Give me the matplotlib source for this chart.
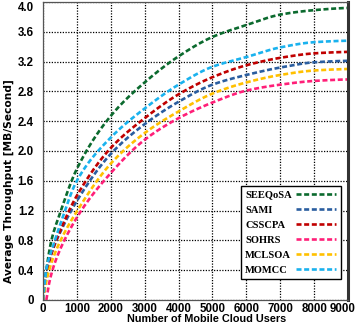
import matplotlib.pyplot as plt
import matplotlib.transforms as mtransforms
import numpy as np

# values (users, MB/s)
users = [0, 100, 250, 500, 1000, 2000, 3000, 4000, 5000, 6000, 7000, 8000, 9000]
seeqosa = [0, 0.40, 0.80, 1.16, 1.76, 2.47, 2.92, 3.27, 3.53, 3.69, 3.83, 3.89, 3.92]
momcc   = [0, 0.41, 0.66, 1.00, 1.60, 2.18, 2.57, 2.89, 3.13, 3.26, 3.39, 3.46, 3.48]
cssca   = [0, 0.33, 0.62, 0.92, 1.40, 2.04, 2.44, 2.76, 2.99, 3.15, 3.25, 3.31, 3.33]
sami    = [0, 0.40, 0.63, 0.90, 1.33, 1.96, 2.36, 2.66, 2.89, 3.02, 3.12, 3.19, 3.21]
mclsoa  = [0, 0.25, 0.50, 0.78, 1.19, 1.83, 2.24, 2.53, 2.77, 2.92, 3.02, 3.08, 3.10]
sohrs_x = [100, 180, 280, 400, 630, 1130, 1800, 3000, 4000, 5000, 6000, 7000, 8000, 9000]
sohrs   = [0, 0.22, 0.40, 0.56, 0.80, 1.20, 1.60, 2.15, 2.44, 2.65, 2.81, 2.89, 2.94, 2.96]

names = ['SEEQoSA', 'SAMI', 'CSSCPA', 'SOHRS', 'MCLSOA', 'MOMCC']
colors = ['#0b6a2e', '#2a5d9f', '#c00000', '#ff1f78', '#ffc000', '#1ab2ee']
xticks = [0, 1000, 2000, 3000, 4000, 5000, 6000, 7000, 8000, 9000]
yticks = [0, 0.4, 0.8, 1.2, 1.6, 2.0, 2.4, 2.8, 3.2, 3.6, 4.0]
ylabels = ['0', '0.4', '0.8', '1.2', '1.6', '2.0', '2.4', '2.8', '3.2', '3.6', '4.0']

series = {
    'SEEQoSA': (users, seeqosa),
    'SAMI': (users, sami),
    'CSSCPA': (users, cssca),
    'SOHRS': (sohrs_x, sohrs),
    'MCLSOA': (users, mclsoa),
    'MOMCC': (users, momcc),
}


def pchip(x, y, xx):
    # monotone cubic interpolation so the curves come out smooth
    x = np.asarray(x, float)
    y = np.asarray(y, float)
    h = np.diff(x)
    d = np.diff(y) / h
    m = np.zeros_like(y)
    for i in range(1, len(x) - 1):
        if d[i - 1] * d[i] > 0:
            w1 = 2 * h[i] + h[i - 1]
            w2 = h[i] + 2 * h[i - 1]
            m[i] = (w1 + w2) / (w1 / d[i - 1] + w2 / d[i])
    m[0] = d[0]
    m[-1] = d[-1] * 0.5
    idx = np.clip(np.searchsorted(x, xx) - 1, 0, len(x) - 2)
    t = (xx - x[idx]) / h[idx]
    h00 = 2 * t**3 - 3 * t**2 + 1
    h10 = t**3 - 2 * t**2 + t
    h01 = -2 * t**3 + 3 * t**2
    h11 = t**3 - t**2
    return h00 * y[idx] + h10 * h[idx] * m[idx] + h01 * y[idx + 1] + h11 * h[idx] * m[idx + 1]


plt.rcParams['font.family'] = 'Liberation Sans'

fig = plt.figure(figsize=(3.58, 3.25), dpi=100)
ax = fig.add_axes([0.12, 0.077, 0.852, 0.917])

for name, c in zip(names, colors):
    xs, ys = series[name]
    xx = np.linspace(xs[0], xs[-1], 600)
    ax.plot(xx, pchip(xs, ys, xx), color=c, lw=1.9, dashes=(1.9, 1.0), label=name)

ax.set_xlim(0, 9000)
ax.set_ylim(0, 4.0)
ax.set_xticks(xticks)
ax.set_yticks(yticks)
ax.set_yticklabels(ylabels)
ax.tick_params(length=0, labelsize=8.3)
ax.tick_params(axis='x', pad=2)
ax.tick_params(axis='y', pad=6.5)
for lab in ax.get_xticklabels() + ax.get_yticklabels():
    lab.set_fontweight('bold')
ax.get_yticklabels()[-1].set_va('top')
last = ax.get_xticklabels()[-1]
last.set_transform(last.get_transform() + mtransforms.ScaledTranslation(-5 / 100, 0, fig.dpi_scale_trans))
ax.grid(True, color='black', linestyle=(0, (1, 1.2)), lw=0.9)

for s in ['left', 'top', 'bottom']:
    ax.spines[s].set_color('#555555')
    ax.spines[s].set_linewidth(0.9)
ax.spines['right'].set_color('#333333')
ax.spines['right'].set_linewidth(2.2)

ax.set_xlabel('Number of Mobile Cloud Users', fontsize=7.8, fontweight='bold', labelpad=-0.5)
ax.set_ylabel('Average Throughput [MB/Second]', fontsize=7.7, fontweight='bold',
              family='DejaVu Sans', labelpad=3)
ax.xaxis.label.set_x(0.538)
ax.yaxis.label.set_y(0.40)

leg = ax.legend(loc='lower right', bbox_to_anchor=(0.993, 0.052), markerfirst=False,
                fancybox=False, framealpha=1, edgecolor='black', handlelength=3.8,
                labelspacing=0.54, borderpad=0.4, handletextpad=0.6,
                prop={'family': 'Liberation Serif', 'weight': 'bold', 'size': 7.6})
leg.get_frame().set_linewidth(1.0)
# left-align the texts while keeping the sample lines in one column
col = leg._legend_handle_box.get_children()[0]
col.align = 'left'
col.width = 91
for row in col.get_children():
    row.mode = 'expand'

fig.savefig('out.png', dpi=100)
